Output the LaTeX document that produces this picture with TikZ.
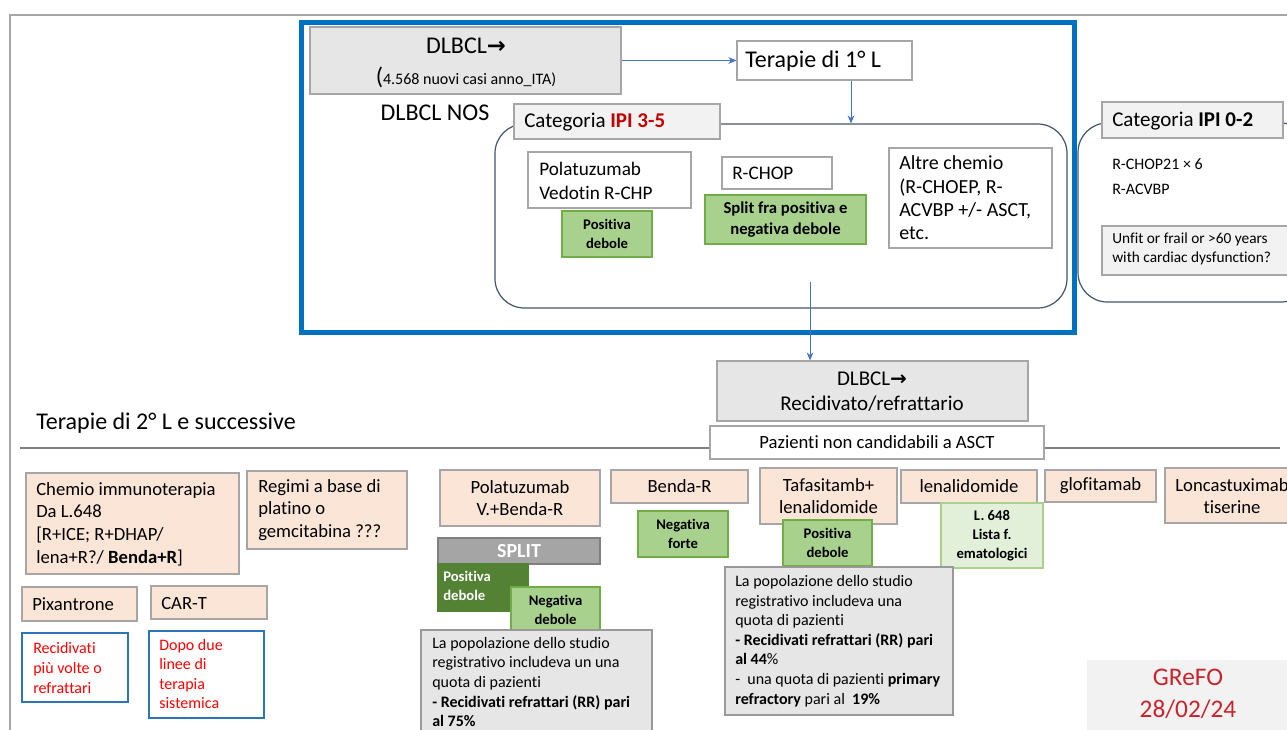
\documentclass[tikz,border=0pt]{standalone}
\usepackage{fontspec}
\setmainfont[Ligatures={NoCommon}]{Carlito}
\newfontfamily\symf{DejaVu Sans}
\usetikzlibrary{fit,arrows.meta}
\definecolor{frameblue}{HTML}{0070C0}
\definecolor{arrblue}{HTML}{4472C4}
\definecolor{bordgray}{HTML}{A6A6A6}
\definecolor{boxgray}{HTML}{E7E6E6}
\definecolor{catgray}{HTML}{F2F2F2}
\definecolor{rboxc}{HTML}{44546A}
\definecolor{peachc}{HTML}{FBE5D6}
\definecolor{grnfill}{HTML}{A9D18E}
\definecolor{grnbord}{HTML}{70AD47}
\definecolor{dkgreen}{HTML}{548235}
\definecolor{ltgreen}{HTML}{E2F0D9}
\definecolor{splitgray}{HTML}{A5A5A5}
\definecolor{ipired}{HTML}{C00000}
\definecolor{txtred}{HTML}{FF0000}
\definecolor{recblue}{HTML}{2E75B6}
\definecolor{grefored}{HTML}{C8242B}
\definecolor{linegray}{HTML}{7F7F7F}
\newcommand\fzA{\fontsize{18}{21}\selectfont}
\newcommand\fzB{\fontsize{15.75}{19}\selectfont}
\newcommand\fzC{\fontsize{15}{17.5}\selectfont}
\newcommand\fzP{\fontsize{14.4}{17.5}\selectfont}
\newcommand\fzD{\fontsize{14}{17}\selectfont}
\newcommand\fzE{\fontsize{12}{14.7}\selectfont}
\newcommand\fzF{\fontsize{11}{14.5}\selectfont\bfseries}
\newcommand\fzG{\fontsize{19}{24}\selectfont}
\begin{document}
\begin{tikzpicture}[x=0.75pt,y=-0.75pt,
  box/.style={draw=bordgray, line width=0.9pt, inner sep=0pt},
  graybox/.style={box, fill=boxgray},
  whitebox/.style={box, fill=white},
  catbox/.style={box, fill=catgray},
  peachbox/.style={box, fill=peachc},
  gbox/.style={draw=grnbord, fill=grnfill, line width=0.9pt, inner sep=0pt, font=\fzF, align=center},
  dgbox/.style={draw=dkgreen, fill=dkgreen, line width=0.9pt, inner sep=0pt},
  lgbox/.style={draw=grnfill, fill=ltgreen, line width=0.9pt, inner sep=0pt, font=\fzF, align=center},
  rbox/.style={draw=rboxc, line width=0.9pt, rounded corners=22pt, inner sep=0pt},
  redbox/.style={draw=recblue, line width=0.9pt, fill=white, inner sep=0pt},
  parabox/.style={draw=linegray!80, line width=0.9pt, fill=boxgray, inner sep=0pt},
  txt/.style={inner sep=0pt, align=left},
  ctxt/.style={inner sep=0pt, align=center},
  arr/.style={draw=arrblue, line width=0.6pt, -{Stealth[length=6pt,width=5pt]}}]
\clip (0,0) rectangle (1287,729);
\fill[white] (0,0) rectangle (1287,729);
% outer frame
\draw[bordgray, line width=1.5pt] (10,745) -- (10,15) -- (1300,15);
% blue frame
\node[draw=frameblue, line width=3.75pt, inner sep=0pt, fit={(301,22)(1074,332)}] (frame) {};
% top
\node[graybox, fit={(310,27)(621,94)}] (dl) {};
\node[txt, font=\fzA, anchor=base] (dlt1) at (466,53) {DLBCL{\symf\bfseries\fontsize{17}{20}\selectfont →}};
\node[txt, anchor=base] (dlt2) at (466,84) {{\fzA(}{\fzE 4.568 nuovi casi anno\_ITA)}};
\node[whitebox, fit={(737,41)(912,80)}] (t1) {};
\node[txt, font=\fzA, anchor=west] (t1t) at (745,61) {Terapie di 1° L};
\draw[arr] (dl.east |- t1.west) -- (t1.west);
\node[txt, font=\fzA, anchor=base] (nos) at (435,120) {DLBCL NOS};
% IPI 3-5
\node[rbox, fit={(495,124)(1067,308)}] (ipiA) {};
\node[catbox, fit={(514,104)(720,139)}] (catA) {};
\node[txt, font=\fzB, anchor=west] (catAt) at (524,122) {Categoria \textcolor{ipired}{\textbf{IPI 3-5}}};
\coordinate (cx1) at (851,0);
\draw[arr] (t1.south -| cx1) -- (ipiA.north -| cx1);
\node[whitebox, fit={(528,152)(691,208)}] (pola) {};
\node[txt, font=\fzP, anchor=west] (polat) at (539,181) {Polatuzumab\\Vedotin R-CHP};
\node[gbox, fit={(562,211)(652,257)}] (posA) {};
\node[ctxt, font=\fzF] (posAt) at (posA.center) {Positiva\\debole};
\node[whitebox, fit={(722,157)(832,189)}] (rchop) {};
\node[txt, font=\fzP, anchor=west] (rchopt) at (732,173) {R-CHOP};
\node[gbox, fit={(705,195)(866,244)}] (split) {};
\node[ctxt, font=\fontsize{12.5}{16}\selectfont\bfseries] (splitt) at (split.center) {Split fra positiva e\\negativa debole};
\node[whitebox, fit={(889,148)(1052,248)}] (altre) {};
\node[txt, font=\fzC, anchor=west] (altret) at (899,198) {Altre chemio\\(R-CHOEP, R-\\ACVBP +/- ASCT,\\etc.};
% IPI 0-2
\node[rbox, fit={(1078,123)(1310,302)}] (ipiB) {};
\node[catbox, fit={(1102,102)(1283,138)}] (catB) {};
\node[txt, font=\fzB, anchor=west] (catBt) at (1112,121) {Categoria \textbf{IPI 0-2}};
\node[txt, font=\fzE, anchor=west] (rc21) at (1112,164) {R-CHOP21 × 6};
\node[txt, font=\fzE, anchor=west] (racv) at (1112,189) {R-ACVBP};
\node[catbox, fit={(1102,226)(1300,275)}] (unfit) {};
\node[txt, font=\fontsize{11.5}{14.2}\selectfont, anchor=west] (unfitt) at (1112,249) {Unfit or frail or >60 years\\with cardiac dysfunction?};
% relapsed
\node[graybox, fit={(717,361)(1028,421)}] (rec) {};
\node[ctxt, font=\fzB] (rect1) at (872,379) {DLBCL{\symf\bfseries\fontsize{15}{18}\selectfont →}};
\node[ctxt, font=\fzB] (rect2) at (872,404) {Recidivato/refrattario};
\coordinate (cx2) at (810,282);
\draw[arr] (cx2) -- (rec.north -| cx2);
\node[txt, font=\fzA, anchor=west] (t2) at (36,423) {Terapie di 2° L e successive};
\coordinate (hl1) at (20,448);
\coordinate (hl2) at (1280,448);
\draw[linegray, line width=2.2pt] (hl1) -- (hl2);
\node[whitebox, fit={(710,426)(1044,459)}] (paz) {};
\node[ctxt, font=\fzD] (pazt) at (paz.center) {Pazienti non candidabili a ASCT};
% bottom row
\node[peachbox, fit={(26,473)(239,574)}] (chemio) {};
\node[txt, font=\fzD, anchor=west] (chemiot) at (36,524) {Chemio immunoterapia\\Da L.648\\{[}R+ICE; R+DHAP/\\lena+R?/ \textbf{Benda+R}{]}};
\node[peachbox, fit={(247,471)(407,549)}] (regimi) {};
\node[txt, font=\fzD, anchor=west] (regimit) at (258,510) {Regimi a base di\\platino o\\gemcitabina ???};
\node[peachbox, fit={(440,470)(600,526)}] (polaB) {};
\node[ctxt, font=\fzD] (polaBt) at (polaB.center) {Polatuzumab\\V.+Benda-R};
\node[draw=linegray, fill=splitgray, line width=0.9pt, inner sep=0pt, fit={(438,538)(600,564)}] (spl) {};
\node[ctxt, font=\fontsize{15}{16}\selectfont\bfseries, text=white] (splt) at (spl.center) {SPLIT};
\node[dgbox, fit={(438,564)(528,611)}] (posB) {};
\node[txt, font=\fzF, text=white, anchor=west] (posBt) at (443,586) {Positiva\\debole};
\node[gbox, fit={(511,587)(600,633)}] (negB) {};
\node[ctxt, font=\fzF] (negBt) at (negB.center) {Negativa\\debole};
\node[peachbox, fit={(611,470)(748,503)}] (benda) {};
\node[ctxt, font=\fzD] (bendat) at (benda.center) {Benda-R};
\node[gbox, fit={(638,511)(728,557)}] (negF) {};
\node[ctxt, font=\fzF] (negFt) at (negF.center) {Negativa\\forte};
\node[peachbox, fit={(760,468)(897,524)}] (tafa) {};
\node[ctxt, font=\fzD] (tafat) at (tafa.center) {Tafasitamb+\\lenalidomide};
\node[gbox, fit={(783,520)(872,566)}] (posC) {};
\node[ctxt, font=\fzF] (posCt) at (posC.center) {Positiva\\debole};
\node[peachbox, fit={(901,470)(1037,503)}] (lena) {};
\node[ctxt, font=\fzD] (lenat) at (lena.center) {lenalidomide};
\node[lgbox, fit={(941,503)(1043,568)}] (l648) {};
\node[ctxt, font=\fzF] (l648t) at (l648.center) {L. 648\\Lista f.\\ematologici};
\node[peachbox, fit={(1045,470)(1156,502)}] (glof) {};
\node[ctxt, font=\fzD] (gloft) at (glof.center) {glofitamab};
\node[peachbox, fit={(1165,468)(1310,523)}] (lonc) {};
\node[ctxt, font=\fzD] (lonct) at (1232,496) {Loncastuximab\\tiserine};
\node[peachbox, fit={(22,587)(137,621)}] (pix) {};
\node[txt, font=\fzD, anchor=west] (pixt) at (32,604) {Pixantrone};
\node[peachbox, fit={(151,586)(267,619)}] (cart) {};
\node[txt, font=\fzD, anchor=west] (cartt) at (161,603) {CAR-T};
\node[redbox, fit={(22,633)(128,702)}] (recid) {};
\node[txt, font=\fzE, text=txtred, anchor=west] (recidt) at (33,668) {Recidivati\\più volte o\\refrattari};
\node[redbox, fit={(149,631)(264,718)}] (dopo) {};
\node[txt, font=\fzE, text=txtred, anchor=west] (dopot) at (159,674) {Dopo due\\linee di\\terapia\\sistemica};
\node[parabox, fit={(421,630)(652,760)}] (parA) {};
\node[txt, font=\fzE, anchor=north west] (parAt) at (432,637) {La popolazione dello studio\\registrativo includeva un una\\quota di pazienti\\\textbf{- Recidivati refrattari (RR) pari}\\\textbf{al 75\%}};
\node[parabox, fit={(725,567)(953,715)}] (parB) {};
\node[txt, font=\fzE, anchor=west] (parBt) at (735,641) {La popolazione dello studio\\registrativo includeva una\\quota di pazienti\\\textbf{- Recidivati refrattari (RR) pari}\\\textbf{al 44}\%\\-~ una quota di pazienti \textbf{primary}\\\textbf{refractory} pari al~ \textbf{19\%}};
\node[fill=catgray, inner sep=0pt, fit={(1087,660)(1310,740)}] (grefo) {};
\node[ctxt, font=\fzG, text=grefored] (grefot) at (1188,694) {GReFO\\28/02/24};
\end{tikzpicture}
\end{document}
